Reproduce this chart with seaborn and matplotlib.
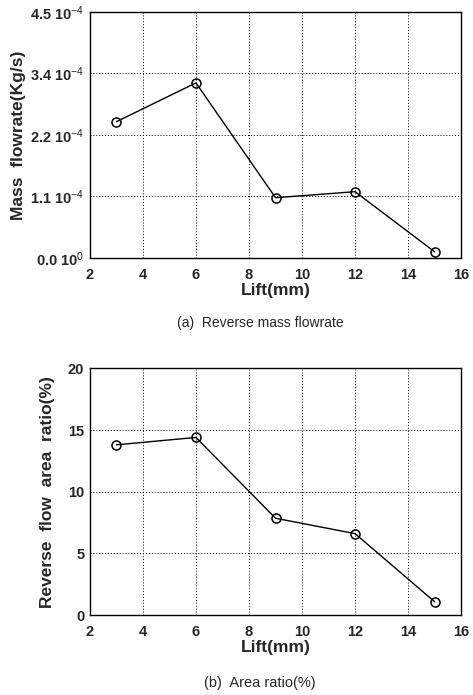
import numpy as np
import pandas as pd
import matplotlib
matplotlib.use("Agg")
import matplotlib.pyplot as plt
import seaborn as sns

lift = [3, 6, 9, 12, 15]
mass_flow = [2.49e-4, 3.20e-4, 1.10e-4, 1.21e-4, 0.11e-4]
area_ratio = [13.8, 14.4, 7.85, 6.6, 1.08]
x_ticks = [2, 4, 6, 8, 10, 12, 14, 16]
top_yticks = [0.0, 1.125e-4, 2.25e-4, 3.375e-4, 4.5e-4]
top_ylabels = ["0.0 10$^{0}$", "1.1 10$^{-4}$", "2.2 10$^{-4}$", "3.4 10$^{-4}$", "4.5 10$^{-4}$"]
bot_yticks = [0, 5, 10, 15, 20]

sns.set_style("white")
plt.rcParams['font.family'] = ['Liberation Sans', 'DejaVu Sans']
plt.rcParams['mathtext.fontset'] = 'custom'
plt.rcParams['mathtext.rm'] = 'Liberation Sans'
plt.rcParams['mathtext.it'] = 'Liberation Sans:italic'
plt.rcParams['mathtext.bf'] = 'Liberation Sans:bold'

fig = plt.figure(figsize=(4.73, 6.95), dpi=100)
ax1 = fig.add_axes([0.190, 0.629, 0.785, 0.354])
ax2 = fig.add_axes([0.190, 0.115, 0.785, 0.355])

df1 = pd.DataFrame({"lift": lift, "val": mass_flow})
df2 = pd.DataFrame({"lift": lift, "val": area_ratio})

for ax, df in [(ax1, df1), (ax2, df2)]:
    sns.lineplot(data=df, x="lift", y="val", ax=ax, color="black", linewidth=1.0,
                 marker="o", markersize=6.5, markerfacecolor="none",
                 markeredgecolor="black", markeredgewidth=1.1)
    ax.set_xlim(2, 16)
    ax.set_xticks(x_ticks)
    ax.grid(True, linestyle=(0, (1, 2)), color="black", linewidth=0.7)
    ax.tick_params(direction="in", length=3, width=0.8, labelsize=10.5)
    ax.tick_params(axis="x", pad=7)
    ax.tick_params(axis="y", pad=4)
    for lab in ax.get_xticklabels() + ax.get_yticklabels():
        lab.set_fontweight("bold")
    for s in ax.spines.values():
        s.set_color("black")
        s.set_linewidth(1.0)
    ax.set_xlabel("Lift(mm)", fontsize=12.5, fontweight="bold", labelpad=1)

ax1.set_ylim(0, 4.5e-4)
ax1.set_yticks(top_yticks)
ax1.set_yticklabels(top_ylabels, fontweight="bold")
ax1.set_ylabel("Mass  flowrate(Kg/s)", fontsize=12.5, fontweight="bold", labelpad=3)

ax2.set_ylim(0, 20)
ax2.set_yticks(bot_yticks)
ax2.set_yticklabels([str(v) for v in bot_yticks], fontweight="bold")
ax2.set_ylabel("Reverse  flow  area  ratio(%)", fontsize=12.5, fontweight="bold", labelpad=9)

fig.text(0.55, 1 - 323/695, "(a)  Reverse mass flowrate", ha="center", va="center", fontsize=10)
fig.text(0.55, 1 - 683/695, "(b)  Area ratio(%)", ha="center", va="center", fontsize=10.5)

fig.savefig("out.png", dpi=100)
